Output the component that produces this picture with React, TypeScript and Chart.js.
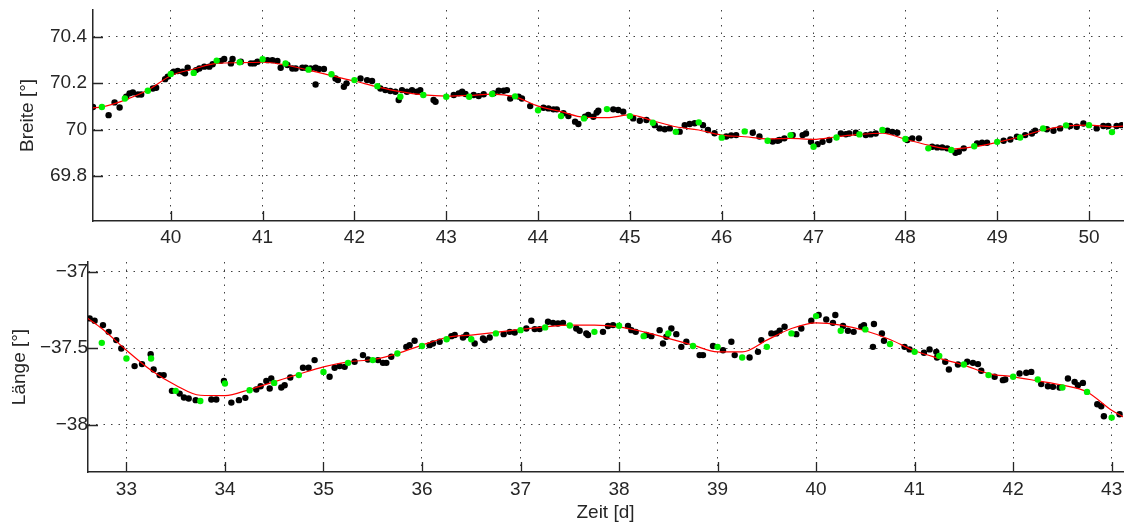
import React, { useEffect, useRef } from "react";
import { Chart, registerables } from "chart.js";

Chart.register(...registerables);

// ---------------- upper panel: Breite ----------------
const latRange = [39.153, 50.37];
const latYRange = [69.606, 70.515];
const latTicksX = [40, 41, 42, 43, 44, 45, 46, 47, 48, 49, 50];
const latTicksY = [69.8, 70, 70.2, 70.4];

const latGreenT = [39.25, 39.5, 39.75, 40, 40.25, 40.5, 40.75, 41, 41.25, 41.5, 41.75, 42, 42.25, 42.5, 42.75, 43, 43.25, 43.5, 43.75, 44, 44.25, 44.5, 44.75, 45, 45.25, 45.5, 45.75, 46, 46.25, 46.5, 46.75, 47, 47.25, 47.5, 47.75, 48, 48.25, 48.5, 48.75, 49, 49.25, 49.5, 49.75, 50, 50.25];
const latGreenV = [70.097, 70.134, 70.167, 70.239, 70.244, 70.297, 70.29, 70.303, 70.285, 70.258, 70.238, 70.213, 70.187, 70.141, 70.149, 70.141, 70.141, 70.153, 70.143, 70.083, 70.058, 70.048, 70.088, 70.058, 70.029, 69.99, 70.031, 69.965, 69.992, 69.952, 69.976, 69.926, 69.966, 69.979, 69.998, 69.959, 69.919, 69.912, 69.928, 69.947, 69.966, 70.005, 70.018, 70.019, 69.989];

const latFitT = [39.15, 39.25, 39.5, 39.75, 40, 40.25, 40.5, 40.75, 41, 41.25, 41.5, 41.75, 42, 42.25, 42.5, 42.75, 43, 43.25, 43.5, 43.75, 44, 44.25, 44.5, 44.75, 45, 45.25, 45.5, 45.75, 46, 46.25, 46.5, 46.75, 47, 47.25, 47.5, 47.75, 48, 48.25, 48.5, 48.75, 49, 49.25, 49.5, 49.75, 50, 50.25, 50.37];
const latFitV = [70.093, 70.097, 70.127, 70.17, 70.232, 70.261, 70.285, 70.288, 70.29, 70.278, 70.256, 70.232, 70.209, 70.184, 70.163, 70.149, 70.144, 70.147, 70.153, 70.141, 70.101, 70.077, 70.053, 70.051, 70.063, 70.038, 70.012, 69.998, 69.976, 69.969, 69.96, 69.962, 69.958, 69.969, 69.979, 69.984, 69.958, 69.933, 69.916, 69.926, 69.945, 69.969, 69.998, 70.015, 70.019, 70.012, 70.015];

const latRawT = [39.153, 39.323, 39.388, 39.443, 39.515, 39.551, 39.587, 39.642, 39.678, 39.805, 39.841, 39.938, 39.967, 40.032, 40.076, 40.13, 40.155, 40.184, 40.275, 40.311, 40.365, 40.42, 40.456, 40.546, 40.582, 40.655, 40.673, 40.763, 40.872, 40.908, 40.944, 41.053, 41.107, 41.161, 41.197, 41.27, 41.324, 41.36, 41.433, 41.469, 41.523, 41.577, 41.577, 41.613, 41.668, 41.794, 41.82, 41.885, 41.914, 42.066, 42.138, 42.192, 42.283, 42.337, 42.391, 42.446, 42.482, 42.518, 42.572, 42.627, 42.681, 42.717, 42.862,
  42.883, 43.082, 43.136, 43.173, 43.209, 43.299, 43.353, 43.408, 43.516, 43.571, 43.625, 43.661, 43.697, 43.788, 43.824, 43.914, 44.059, 44.113, 44.167, 44.204, 44.276, 44.33, 44.403, 44.439, 44.511, 44.547, 44.602, 44.638, 44.656, 44.819, 44.873, 44.927, 45.036, 45.108, 45.18, 45.271, 45.325, 45.38, 45.434, 45.542, 45.597, 45.651, 45.705, 45.796, 45.85, 45.922, 46.049, 46.103, 46.157, 46.338, 46.411, 46.555, 46.609,
  46.628, 46.682, 46.773, 46.881, 46.918, 46.972, 47.044, 47.098, 47.171, 47.297, 47.352, 47.388, 47.46, 47.569, 47.623, 47.677, 47.804, 47.858, 47.912, 48.021, 48.075, 48.148, 48.292, 48.347, 48.401, 48.455, 48.546, 48.582, 48.636, 48.781, 48.835, 48.889, 49.07, 49.143, 49.215, 49.305, 49.378, 49.414, 49.541, 49.613, 49.685, 49.794, 49.866, 49.939, 50.083, 50.156, 50.21, 50.3, 50.355];
const latRawV = [70.097, 70.062, 70.117, 70.095, 70.141, 70.156, 70.16, 70.151, 70.151, 70.177, 70.18, 70.217, 70.228, 70.249, 70.252, 70.249, 70.242, 70.266, 70.256, 70.263, 70.271, 70.271, 70.281, 70.296, 70.304, 70.285, 70.304, 70.292, 70.285, 70.285, 70.292, 70.299, 70.299, 70.295, 70.266, 70.278, 70.263, 70.263, 70.266, 70.266, 70.263, 70.266, 70.194, 70.261, 70.261, 70.22, 70.213, 70.184, 70.199, 70.22, 70.213, 70.209, 70.177, 70.17, 70.166, 70.163, 70.127, 70.17, 70.163, 70.17, 70.163, 70.17, 70.127,
  70.12, 70.149, 70.156, 70.163, 70.153, 70.149, 70.144, 70.152, 70.156, 70.167, 70.167, 70.17, 70.134, 70.142, 70.134, 70.101, 70.094, 70.091, 70.087, 70.087, 70.07, 70.058, 70.034, 70.024, 70.055, 70.063, 70.055, 70.073, 70.081, 70.087, 70.084, 70.077, 70.048, 70.038, 70.041, 70.019, 70.005, 70.001, 70.005, 69.991, 70.019, 70.024, 70.027, 70.019, 69.998, 69.984, 69.97, 69.975, 69.976, 69.986, 69.97, 69.948, 69.952,
  69.955, 69.962, 69.976, 69.976, 69.983, 69.947, 69.937, 69.947, 69.955, 69.983, 69.98, 69.983, 69.986, 69.976, 69.979, 69.983, 69.995, 69.99, 69.986, 69.955, 69.962, 69.962, 69.926, 69.923, 69.923, 69.919, 69.9, 69.904, 69.919, 69.94, 69.943, 69.943, 69.952, 69.957, 69.969, 69.976, 69.983, 69.995, 70.001, 69.995, 70.005, 70.015, 70.012, 70.026, 70.005, 70.015, 70.015, 70.015, 70.019];

// ---------------- lower panel: Länge ----------------
const lonRange = [32.61, 43.115];
const lonYRange = [-38.31, -36.936];
const lonTicksX = [33, 34, 35, 36, 37, 38, 39, 40, 41, 42, 43];
const lonTicksY = [-38, -37.5, -37];

const lonGreenT = [32.75, 33, 33.25, 33.5, 33.75, 34, 34.25, 34.5, 34.75, 35, 35.25, 35.5, 35.75, 36, 36.25, 36.5, 36.75, 37, 37.25, 37.5, 37.75, 38, 38.25, 38.5, 38.75, 39, 39.25, 39.5, 39.75, 40, 40.25, 40.5, 40.75, 41, 41.25, 41.5, 41.75, 42, 42.25, 42.5, 42.75, 43];
const lonGreenV = [-37.465, -37.567, -37.567, -37.779, -37.845, -37.731, -37.775, -37.727, -37.676, -37.655, -37.596, -37.578, -37.535, -37.486, -37.441, -37.441, -37.403, -37.382, -37.364, -37.351, -37.393, -37.353, -37.421, -37.403, -37.486, -37.491, -37.561, -37.491, -37.403, -37.29, -37.386, -37.377, -37.473, -37.524, -37.55, -37.607, -37.676, -37.687, -37.705, -37.757, -37.786, -37.954];

const lonFitT = [32.61, 32.75, 33, 33.25, 33.5, 33.75, 34, 34.25, 34.5, 34.75, 35, 35.25, 35.5, 35.75, 36, 36.25, 36.5, 36.75, 37, 37.25, 37.5, 37.75, 38, 38.25, 38.5, 38.75, 39, 39.25, 39.5, 39.75, 40, 40.25, 40.5, 40.75, 41, 41.25, 41.5, 41.75, 42, 42.25, 42.5, 42.75, 43, 43.12];
const lonFitV = [-37.305, -37.371, -37.513, -37.644, -37.742, -37.808, -37.81, -37.77, -37.72, -37.67, -37.622, -37.589, -37.574, -37.535, -37.48, -37.43, -37.414, -37.397, -37.377, -37.36, -37.349, -37.349, -37.36, -37.393, -37.436, -37.48, -37.524, -37.524, -37.447, -37.371, -37.334, -37.349, -37.386, -37.443, -37.517, -37.567, -37.611, -37.666, -37.687, -37.714, -37.742, -37.786, -37.906, -37.95];

const lonRawT = [32.627, 32.677, 32.762, 32.82, 32.897, 32.948, 33.083, 33.158, 33.246, 33.276, 33.337, 33.378, 33.462, 33.54, 33.584, 33.632, 33.703, 33.862, 33.912, 33.99, 34.065, 34.142, 34.207, 34.318, 34.362, 34.42, 34.47, 34.454, 34.572, 34.606, 34.663, 34.792, 34.849, 34.91, 35.062, 35.113, 35.164, 35.215, 35.316, 35.401, 35.452, 35.553, 35.604, 35.638, 35.688, 35.841, 35.874, 35.925, 36.077, 36.111,
  36.179, 36.298, 36.332, 36.416, 36.45, 36.535, 36.619, 36.636, 36.687, 36.829, 36.89, 36.941, 37.059, 37.11, 37.144, 37.194, 37.279, 37.33, 37.38, 37.431, 37.566, 37.6, 37.668, 37.685, 37.837, 37.888, 37.939, 38.091, 38.125, 38.169, 38.277, 38.328, 38.412, 38.446, 38.48, 38.531, 38.581, 38.632, 38.683, 38.818, 38.852, 38.954, 39.055, 39.14, 39.174, 39.325, 39.41, 39.444, 39.546, 39.596,
  39.63, 39.68, 39.799, 39.85, 39.951, 40.026, 40.103, 40.171, 40.195, 40.273, 40.323, 40.381, 40.459, 40.486, 40.577, 40.587, 40.668, 40.689, 40.898, 40.949, 41.095, 41.152, 41.22, 41.227, 41.311, 41.348, 41.44, 41.534, 41.592, 41.643, 41.676, 41.812, 41.896, 41.92, 42.065, 42.133, 42.184, 42.285, 42.353, 42.404, 42.471, 42.556, 42.624, 42.657, 42.708, 42.854, 42.894, 42.921, 43.08];
const lonRawV = [-37.305, -37.32, -37.349, -37.393, -37.447, -37.502, -37.617, -37.604, -37.539, -37.639, -37.676, -37.676, -37.779, -37.797, -37.823, -37.829, -37.84, -37.836, -37.836, -37.714, -37.856, -37.84, -37.825, -37.77, -37.749, -37.714, -37.698, -37.764, -37.757, -37.742, -37.692, -37.628, -37.628, -37.578, -37.687, -37.628, -37.617, -37.622, -37.589, -37.545, -37.574, -37.578, -37.596, -37.596, -37.556, -37.491, -37.48, -37.451, -37.48, -37.469,
  -37.458, -37.421, -37.414, -37.43, -37.414, -37.469, -37.436, -37.447, -37.43, -37.408, -37.393, -37.397, -37.371, -37.32, -37.375, -37.375, -37.327, -37.334, -37.338, -37.334, -37.371, -37.386, -37.403, -37.414, -37.393, -37.355, -37.349, -37.355, -37.382, -37.393, -37.414, -37.421, -37.382, -37.469, -37.425, -37.371, -37.408, -37.491, -37.458, -37.545, -37.545, -37.486, -37.513, -37.458, -37.545, -37.561, -37.524, -37.447, -37.403, -37.403,
  -37.386, -37.36, -37.408, -37.371, -37.32, -37.283, -37.312, -37.334, -37.283, -37.355, -37.386, -37.393, -37.36, -37.349, -37.491, -37.342, -37.403, -37.451, -37.491, -37.508, -37.53, -37.508, -37.524, -37.561, -37.589, -37.639, -37.607, -37.589, -37.596, -37.604, -37.648, -37.687, -37.709, -37.705, -37.666, -37.661, -37.655, -37.735, -37.749, -37.753, -37.757, -37.698, -37.72, -37.742, -37.727, -37.867, -37.88, -37.945, -37.932];

// ---------------- styling ----------------
const FONT = "'Liberation Sans', Arial, Helvetica, sans-serif";
const TXT = "#262626";
const GRID = "rgba(30,30,30,0.85)";

const pts = (t: number[], v: number[]) => t.map((x, i) => ({ x, y: v[i] }));
const fmt = (v: number) => (v < 0 ? "\u2212" + String(Math.abs(v)) : String(v));

const innerTicks = {
  id: "innerTicks",
  afterDraw(chart: any) {
    const { ctx, chartArea } = chart;
    const xs = chart.scales.x;
    const ys = chart.scales.y;
    ctx.save();
    ctx.strokeStyle = TXT;
    ctx.lineWidth = 1.3;
    ctx.beginPath();
    xs.ticks.forEach((t: any) => {
      const p = Math.round(xs.getPixelForValue(t.value)) + 0.5;
      ctx.moveTo(p, chartArea.bottom);
      ctx.lineTo(p, chartArea.bottom - 10);
    });
    ys.ticks.forEach((t: any) => {
      const p = Math.round(ys.getPixelForValue(t.value)) + 0.5;
      ctx.moveTo(chartArea.left, p);
      ctx.lineTo(chartArea.left + 10, p);
    });
    ctx.stroke();
    ctx.restore();
  },
};

type Spec = {
  width: number;
  height: number;
  padTop: number;
  padRight: number;
  yWidth: number;
  xHeight: number;
  xRange: number[];
  yRange: number[];
  xTicks: number[];
  yTicks: number[];
  xPad: number;
  yPad: number;
  yTitle: string;
  yTitlePad: number;
  xTitle?: string;
  raw: { x: number; y: number }[];
  fit: { x: number; y: number }[];
  green: { x: number; y: number }[];
};

function makeChart(canvas: HTMLCanvasElement, s: Spec) {
  return new Chart(canvas, {
    type: "scatter",
    data: {
      datasets: [
        {
          data: s.raw,
          backgroundColor: "#000000",
          borderWidth: 0,
          pointRadius: 3.2,
          order: 3,
        },
        {
          data: s.fit,
          showLine: true,
          borderColor: "#ff0000",
          borderWidth: 1.2,
          pointRadius: 0,
          cubicInterpolationMode: "monotone",
          order: 2,
        } as any,
        {
          data: s.green,
          backgroundColor: "#00f000",
          borderWidth: 0,
          pointRadius: 3.2,
          order: 1,
        },
      ],
    },
    options: {
      animation: false,
      responsive: false,
      events: [],
      layout: { padding: { top: s.padTop, right: s.padRight, left: 0, bottom: 0 } },
      plugins: { legend: { display: false }, tooltip: { enabled: false } },
      scales: {
        x: {
          type: "linear",
          position: "bottom",
          min: s.xRange[0],
          max: s.xRange[1],
          afterBuildTicks: (sc: any) => {
            sc.ticks = s.xTicks.map((v) => ({ value: v }));
          },
          afterFit: (sc: any) => {
            sc.height = s.xHeight;
            sc.paddingLeft = 0;
            sc.paddingRight = 0;
            sc.paddingTop = 0;
            sc.paddingBottom = 0;
          },
          ticks: {
            autoSkip: false,
            maxRotation: 0,
            padding: s.xPad,
            color: TXT,
            font: { family: FONT, size: 19 },
            callback: (v: any) => fmt(Number(v)),
          },
          grid: { color: GRID, lineWidth: 1, drawTicks: false },
          border: { display: true, color: TXT, width: 1.5, dash: [1.5, 6] },
          title: s.xTitle
            ? {
                display: true,
                text: s.xTitle,
                color: TXT,
                font: { family: FONT, size: 19, lineHeight: 1.2 },
                padding: { top: 0, bottom: 0.6 },
              }
            : { display: false },
        },
        y: {
          type: "linear",
          position: "left",
          min: s.yRange[0],
          max: s.yRange[1],
          afterBuildTicks: (sc: any) => {
            sc.ticks = s.yTicks.map((v) => ({ value: v }));
          },
          afterFit: (sc: any) => {
            sc.width = s.yWidth;
            sc.paddingLeft = 0;
            sc.paddingRight = 0;
            sc.paddingTop = 0;
            sc.paddingBottom = 0;
          },
          ticks: {
            autoSkip: false,
            padding: s.yPad,
            color: TXT,
            font: { family: FONT, size: 19 },
            callback: (v: any) => fmt(Number(v)),
          },
          grid: { color: GRID, lineWidth: 1, drawTicks: false },
          border: { display: true, color: TXT, width: 1.5, dash: [1.5, 6] },
          title: {
            display: true,
            text: s.yTitle,
            color: TXT,
            font: { family: FONT, size: 19, lineHeight: 1.2 },
            padding: { top: s.yTitlePad, bottom: 0 },
          },
        },
      },
    },
    plugins: [innerTicks],
  } as any);
}

export default function App() {
  const topRef = useRef<HTMLCanvasElement>(null);
  const botRef = useRef<HTMLCanvasElement>(null);

  useEffect(() => {
    const c1 = makeChart(topRef.current!, {
      width: 1127,
      height: 250,
      padTop: 10,
      padRight: 1,
      yWidth: 93,
      xHeight: 29,
      xRange: latRange,
      yRange: latYRange,
      xTicks: latTicksX,
      yTicks: latTicksY,
      xPad: 5,
      yPad: 6,
      yTitle: "Breite [°]",
      yTitlePad: 16,
      raw: pts(latRawT, latRawV),
      fit: pts(latFitT, latFitV),
      green: pts(latGreenT, latGreenV),
    });
    const c2 = makeChart(botRef.current!, {
      width: 1127,
      height: 275,
      padTop: 12,
      padRight: 4,
      yWidth: 88,
      xHeight: 53,
      xRange: lonRange,
      yRange: lonYRange,
      xTicks: lonTicksX,
      yTicks: lonTicksY,
      xPad: 6,
      yPad: 0,
      yTitle: "Länge [°]",
      yTitlePad: 8,
      xTitle: "Zeit [d]",
      raw: pts(lonRawT, lonRawV),
      fit: pts(lonFitT, lonFitV),
      green: pts(lonGreenT, lonGreenV),
    });
    return () => {
      c1.destroy();
      c2.destroy();
    };
  }, []);

  return (
    <div
      style={{
        position: "fixed",
        left: 0,
        top: 0,
        width: 1127,
        height: 525,
        background: "#ffffff",
      }}
    >
      <canvas
        ref={topRef}
        width={1127}
        height={250}
        style={{ position: "absolute", left: 0, top: 0, width: 1127, height: 250 }}
      />
      <canvas
        ref={botRef}
        width={1127}
        height={275}
        style={{ position: "absolute", left: 0, top: 250, width: 1127, height: 275 }}
      />
    </div>
  );
}
